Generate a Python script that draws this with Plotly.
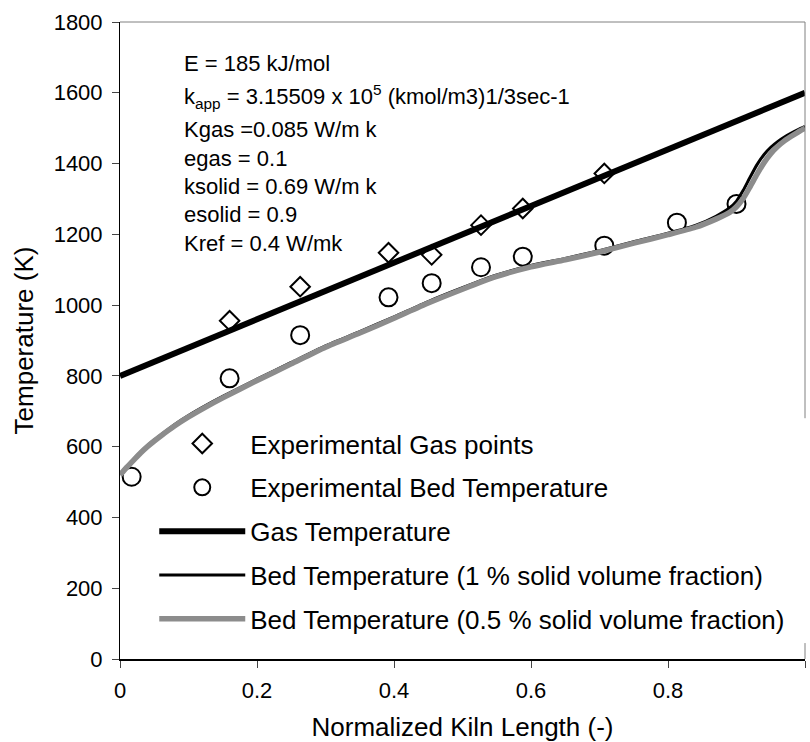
import plotly.graph_objects as go

# Normalized kiln length positions of the model profiles
x_model = [0, 0.005, 0.01, 0.02, 0.03, 0.04, 0.05, 0.06, 0.08, 0.10, 0.125, 0.15, 0.20,
           0.25, 0.30, 0.35, 0.40, 0.45, 0.50, 0.55, 0.60, 0.65, 0.70, 0.75, 0.80,
           0.84, 0.87, 0.89, 0.90, 0.91, 0.92, 0.93, 0.94, 0.95, 0.96, 0.97, 0.98,
           0.99, 1.00]

# Bed temperature, 1 % solid volume fraction (K)
bed_1pct = [523, 534, 545, 565, 585, 603, 619, 634, 663, 688, 716, 742, 791,
            838, 885, 925, 967, 1010, 1049, 1085, 1112, 1132, 1154, 1179, 1203,
            1225, 1251, 1275, 1294, 1325, 1362, 1397, 1425, 1446, 1462, 1475, 1486,
            1496, 1505]

# Bed temperature, 0.5 % solid volume fraction (K)
bed_05pct = [520, 531, 542, 562, 582, 600, 616, 631, 659, 684, 712, 738, 787,
             834, 881, 921, 963, 1006, 1045, 1081, 1108, 1128, 1150, 1175, 1199,
             1220, 1243, 1262, 1278, 1302, 1335, 1370, 1402, 1428, 1448, 1464, 1477,
             1489, 1500]

# Gas temperature profile (K)
x_gas_model = [0, 1]
gas_model = [800, 1600]

# Measurements
x_gas_exp = [0.16, 0.263, 0.392, 0.455, 0.527, 0.588, 0.707]
gas_exp = [956, 1052, 1148, 1142, 1226, 1273, 1372]

x_bed_exp = [0.017, 0.16, 0.263, 0.392, 0.455, 0.527, 0.588, 0.707, 0.813, 0.90]
bed_exp = [515, 793, 915, 1022, 1062, 1107, 1137, 1168, 1233, 1286]

x_ticks = [0, 0.2, 0.4, 0.6, 0.8, 1]
x_tick_text = ["0", "0.2", "0.4", "0.6", "0.8", "1"]
y_ticks = list(range(0, 1801, 200))

param_lines = [
    "E = 185 kJ/mol",
    "k<sub>app</sub> = 3.15509 x 10<sup>5</sup> (kmol/m3)1/3sec-1",
    "Kgas =0.085 W/m k",
    "egas = 0.1",
    "ksolid = 0.69 W/m k",
    "esolid = 0.9",
    "Kref = 0.4 W/mk",
]
param_y = [0.935, 0.883, 0.831, 0.786, 0.742, 0.698, 0.653]

FONT = "Liberation Sans, Arial, sans-serif"
GREY = "#8c8c8c"

fig = go.Figure()

fig.add_trace(go.Scatter(
    x=x_gas_exp, y=gas_exp, mode="markers", name="Experimental Gas points",
    marker=dict(symbol="diamond-open", size=15, color="black", line=dict(width=2)),
    legendgroup="a"))
fig.add_trace(go.Scatter(
    x=x_bed_exp, y=bed_exp, mode="markers", name="Experimental Bed Temperature",
    marker=dict(symbol="circle-open", size=18, color="black", line=dict(width=2)),
    legendgroup="b"))
fig.add_trace(go.Scatter(
    x=x_gas_model, y=gas_model, mode="lines", name="Gas Temperature",
    line=dict(color="black", width=6), legendgroup="c"))
fig.add_trace(go.Scatter(
    x=x_model, y=bed_1pct, mode="lines", name="Bed Temperature (1 % solid volume fraction)",
    line=dict(color="black", width=3, shape="spline", smoothing=0.6), legendgroup="d"))
fig.add_trace(go.Scatter(
    x=x_model, y=bed_05pct, mode="lines", name="Bed Temperature (0.5 % solid volume fraction)",
    line=dict(color=GREY, width=5.5, shape="spline", smoothing=0.6), legendgroup="e"))

annotations = []
for txt, yp in zip(param_lines, param_y):
    annotations.append(dict(
        text=txt, xref="paper", yref="paper", x=0.09, y=yp,
        xanchor="left", yanchor="middle", showarrow=False,
        font=dict(family=FONT, size=22, color="black")))

fig.update_layout(
    width=810, height=742,
    margin=dict(l=120, r=5, t=22, b=83),
    paper_bgcolor="white", plot_bgcolor="white",
    font=dict(family=FONT, size=22, color="black"),
    showlegend=True,
    legend=dict(
        x=0.05, y=0.375, xanchor="left", yanchor="top",
        bgcolor="rgba(0,0,0,0)", borderwidth=0,
        font=dict(family=FONT, size=26, color="black"),
        itemwidth=86, tracegroupgap=7, traceorder="grouped"),
    annotations=annotations,
    shapes=[
        dict(type="line", xref="paper", yref="paper", x0=0, x1=1, y0=1, y1=1,
             line=dict(color="#808080", width=1)),
        dict(type="line", xref="paper", yref="paper", x0=1, x1=1, y0=0.378, y1=1,
             line=dict(color="#808080", width=1)),
        dict(type="line", xref="paper", yref="paper", x0=1, x1=1, y0=0, y1=0.025,
             line=dict(color="#808080", width=1)),
    ],
)

fig.update_xaxes(
    range=[0, 1], tickvals=x_ticks, ticktext=x_tick_text, automargin=False,
    showgrid=False, zeroline=False, showline=True, linecolor="black", linewidth=2,
    ticks="outside", ticklen=7, tickcolor="#444", tickwidth=1,
    tickfont=dict(family=FONT, size=22), ticklabelstandoff=4,
    title=dict(text="Normalized Kiln Length (-)", font=dict(family=FONT, size=26), standoff=18))
fig.update_yaxes(
    range=[0, 1800], tickvals=y_ticks, automargin=False,
    showgrid=False, zeroline=False, showline=True, linecolor="black", linewidth=1,
    ticks="outside", ticklen=7, tickcolor="#444", tickwidth=1,
    tickfont=dict(family=FONT, size=22), ticklabelstandoff=5,
    title=dict(text="Temperature (K)", font=dict(family=FONT, size=26), standoff=12))

fig.write_html("out.html")
